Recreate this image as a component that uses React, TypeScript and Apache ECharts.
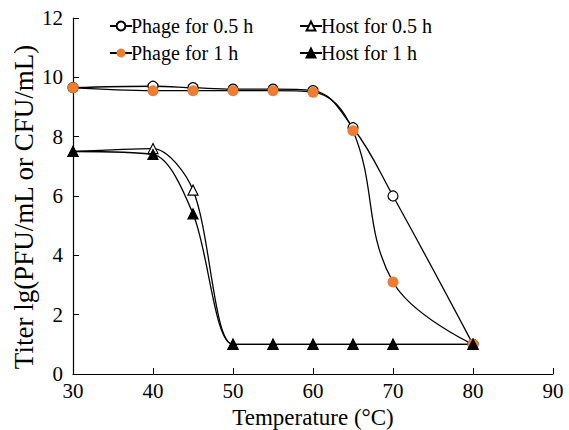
import React, { useEffect, useRef } from "react";
import * as echarts from "echarts";

const temps = [30, 40, 45, 50, 55, 60, 65, 70, 80];
const phageHalf = [9.65, 9.7, 9.65, 9.6, 9.6, 9.55, 8.3, 6.0, 1.0];
const phageOne = [9.65, 9.55, 9.55, 9.55, 9.55, 9.5, 8.2, 3.1, 1.0];
const hostHalf = [7.5, 7.6, 6.2, 1.0, 1.0, 1.0, 1.0, 1.0, 1.0];
const hostOne = [7.5, 7.4, 5.4, 1.0, 1.0, 1.0, 1.0, 1.0, 1.0];
const xTicks = [30, 40, 50, 60, 70, 80, 90];
const yTicks = [0, 2, 4, 6, 8, 10, 12];

const FONT = "'Liberation Serif', 'Times New Roman', serif";
const ORANGE = "#ED7D31";

const pairs = (ys: number[]) => temps.map((t, i) => [t, ys[i]]);

export default function App() {
  const ref = useRef<HTMLDivElement>(null);
  useEffect(() => {
    if (!ref.current) return;
    const chart = echarts.init(ref.current, null, { renderer: "svg" });
    const lineStyle = { color: "#000", width: 1.3 };
    const mkSeries = (name: string, ys: number[], symbol: string, fill: string, border: string, size: number, smooth: number) => ({
      name,
      type: "line",
      data: pairs(ys),
      smooth,
      symbol,
      symbolSize: size,
      lineStyle,
      itemStyle: { color: fill, borderColor: border, borderWidth: border === "none" ? 0 : 1.2 },
    });
    const legendText = { fontFamily: FONT, fontSize: 20, color: "#000", padding: [0, 0, 0, -6] };
    chart.setOption({
      animation: false,
      textStyle: { fontFamily: FONT },
      grid: { left: 73, right: 16, top: 18, bottom: 56, containLabel: false, outerBoundsMode: "none" },
      legend: [
        {
          left: 104,
          top: 11,
          orient: "vertical",
          itemWidth: 22,
          itemHeight: 11,
          itemGap: 7,
          data: ["Phage for 0.5 h", "Phage for 1 h"],
          textStyle: legendText,
        },
        {
          left: 294,
          top: 11,
          orient: "vertical",
          itemWidth: 22,
          itemHeight: 11,
          itemGap: 7,
          data: ["Host for 0.5 h", "Host for 1 h"],
          textStyle: legendText,
        },
      ],
      xAxis: {
        type: "value",
        min: xTicks[0],
        max: xTicks[xTicks.length - 1],
        interval: 10,
        name: "Temperature (°C)",
        nameLocation: "middle",
        nameGap: 32,
        nameMoveOverlap: false,
        nameTextStyle: { fontFamily: FONT, fontSize: 23, color: "#000", verticalAlign: "top" },
        axisLine: { lineStyle: { color: "#000", width: 1.2 } },
        axisTick: { inside: true, length: 6, lineStyle: { color: "#000" } },
        axisLabel: { fontFamily: FONT, fontSize: 21, color: "#000", margin: 6 },
        splitLine: { show: false },
      },
      yAxis: {
        type: "value",
        min: yTicks[0],
        max: yTicks[yTicks.length - 1],
        interval: 2,
        axisLine: { show: true, lineStyle: { color: "#000", width: 1.2 } },
        axisTick: { show: true, inside: true, length: 6, lineStyle: { color: "#000" } },
        axisLabel: { fontFamily: FONT, fontSize: 21, color: "#000", margin: 10 },
        splitLine: { show: false },
      },
      graphic: [
        {
          type: "text",
          x: 24,
          y: 207,
          rotation: Math.PI / 2,
          style: {
            text: "Titer lg(PFU/mL or CFU/mL)",
            fontFamily: FONT,
            fontSize: 27,
            fill: "#000",
            align: "center",
            verticalAlign: "middle",
          },
        },
      ],
      series: [
        mkSeries("Phage for 0.5 h", phageHalf, "circle", "#fff", "#000", 10, 0.4),
        mkSeries("Phage for 1 h", phageOne, "circle", ORANGE, "none", 11, 0.4),
        mkSeries("Host for 0.5 h", hostHalf, "triangle", "#fff", "#000", 10, 0.3),
        mkSeries("Host for 1 h", hostOne, "triangle", "#000", "#000", 10, 0.3),
      ],
    });
    return () => chart.dispose();
  }, []);
  return <div ref={ref} style={{ position: "absolute", left: 0, top: 0, width: 569, height: 430 }} />;
}
